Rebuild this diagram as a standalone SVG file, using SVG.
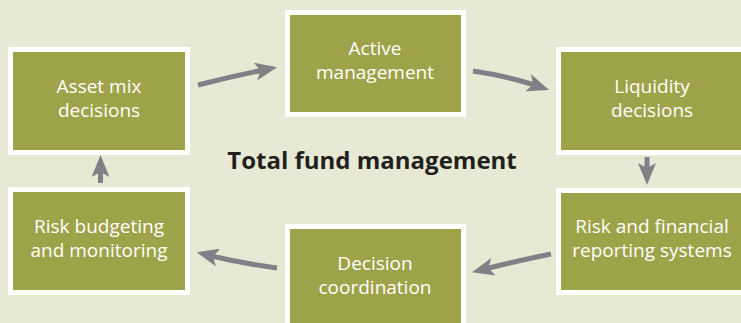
<svg xmlns="http://www.w3.org/2000/svg" width="741" height="323" viewBox="0 0 741 323">
<defs>
<style>
.frame{fill:#ffffff}
.box{fill:#9ea349}
.lbl{font-family:"Open Sans","Liberation Sans",sans-serif;font-size:19px;fill:#ffffff;text-anchor:middle}
.title{font-family:"Open Sans","Liberation Sans",sans-serif;font-size:24px;font-weight:bold;fill:#231f20;text-anchor:middle}
.conn{fill:none;stroke:#808187;stroke-width:5}
</style>
<marker id="ah" markerUnits="userSpaceOnUse" markerWidth="22" markerHeight="18" refX="12" refY="9" orient="auto" viewBox="0 0 22 18">
<path d="M0,0 L22,9 L0,18 L5,9 Z" fill="#808187"/>
</marker>
</defs>
<rect width="741" height="323" fill="#e8e9d4"/>
<text class="title" x="372" y="169">Total fund management</text>
<g id="asset-mix">
<rect class="frame" x="8" y="47" width="182" height="108"/>
<rect class="box" x="13" y="52" width="172" height="98"/>
<text class="lbl" x="99" y="93">Asset mix</text>
<text class="lbl" x="99" y="117">decisions</text>
</g>
<g id="active">
<rect class="frame" x="285" y="10" width="181" height="107"/>
<rect class="box" x="290" y="15" width="171" height="97"/>
<text class="lbl" x="375" y="55">Active</text>
<text class="lbl" x="375" y="79">management</text>
</g>
<g id="liquidity">
<rect class="frame" x="556" y="47" width="190" height="108"/>
<rect class="box" x="561" y="52" width="185" height="98"/>
<text class="lbl" x="652" y="93">Liquidity</text>
<text class="lbl" x="652" y="117">decisions</text>
</g>
<g id="risk-financial">
<rect class="frame" x="556" y="188" width="190" height="107"/>
<rect class="box" x="561" y="193" width="185" height="97"/>
<text class="lbl" x="652" y="233">Risk and financial</text>
<text class="lbl" x="652" y="257">reporting systems</text>
</g>
<g id="decision">
<rect class="frame" x="285" y="224" width="181" height="110"/>
<rect class="box" x="290" y="229" width="171" height="110"/>
<text class="lbl" x="375" y="270">Decision</text>
<text class="lbl" x="375" y="294">coordination</text>
</g>
<g id="risk-budgeting">
<rect class="frame" x="8" y="187" width="182" height="108"/>
<rect class="box" x="13" y="192" width="172" height="98"/>
<text class="lbl" x="99" y="233">Risk budgeting</text>
<text class="lbl" x="99" y="257">and monitoring</text>
</g>
<g id="connectors">
<path class="conn" d="M198,85 Q233,76 267.3,69.2" marker-end="url(#ah)"/>
<path class="conn" d="M473,71 Q508,76 539.6,86.7" marker-end="url(#ah)"/>
<path class="conn" d="M647,157 L647,175" marker-end="url(#ah)"/>
<path class="conn" d="M551,254 Q516,261 481.7,269.8" marker-end="url(#ah)"/>
<path class="conn" d="M277,268 Q240,263 206.3,254.7" marker-end="url(#ah)"/>
<path class="conn" d="M100.5,183 L100.5,165" marker-end="url(#ah)"/>
</g>
</svg>
